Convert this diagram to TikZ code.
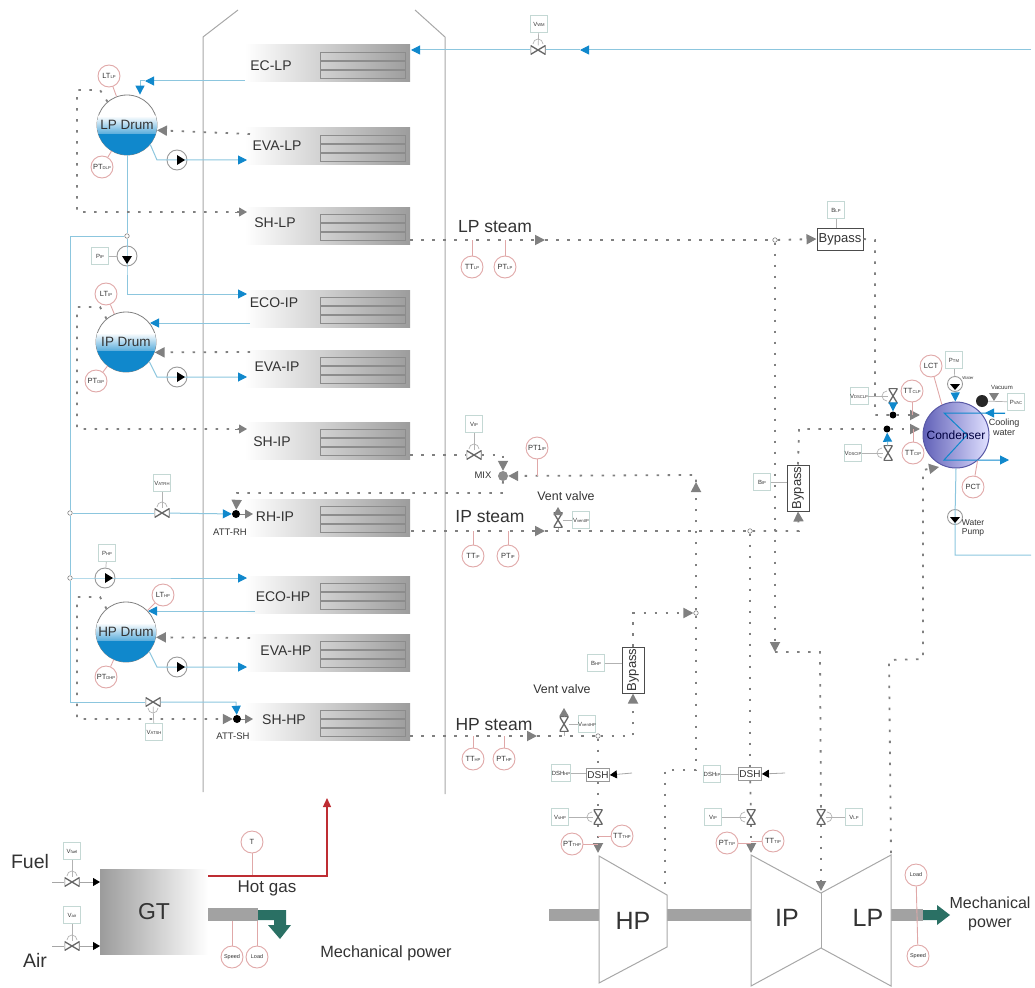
\documentclass[tikz,border=0pt]{standalone}
\usepackage{fontspec}
\setmainfont{Liberation Sans}
\usepackage{tikz}
\usetikzlibrary{positioning, arrows.meta, calc}
\definecolor{casing}{HTML}{A8A8A8}
\definecolor{bankgray}{HTML}{9C9C9C}
\definecolor{tubegray}{HTML}{8C8C8C}
\definecolor{steamgray}{HTML}{808080}
\definecolor{waterline}{HTML}{8CC6DE}
\definecolor{waterblue}{HTML}{1088CC}
\definecolor{redline}{HTML}{E0A8A8}
\definecolor{boxline}{HTML}{C4D8D4}
\definecolor{textgray}{HTML}{333333}
\definecolor{hotred}{HTML}{BE2D33}
\definecolor{powergreen}{HTML}{2A7064}
\definecolor{shaftgray}{HTML}{A2A2A2}
\newcommand{\tagsub}[1]{{\fontsize{4.2}{4.2}\selectfont #1}}

\begin{document}
\begin{tikzpicture}[x=1pt, y=-1pt,
  lbl/.style={text=textgray, inner sep=0pt, font=\fontsize{#1}{#1}\selectfont},
  lbl/.default={14},
  bank/.style={minimum width=165pt, minimum height=37pt, inner sep=0pt,
    left color=white, middle color=gray!62, right color=bankgray},
  tube/.style={draw=tubegray, line width=0.6pt},
  wall/.style={draw=casing, line width=1pt},
  gauge/.style={circle, draw=redline, fill=white, line width=0.9pt, inner sep=0pt,
    minimum size=22pt, text=textgray, font=\fontsize{7.5}{7.5}\selectfont},
  tagbox/.style={draw=boxline, fill=white, line width=0.9pt, inner sep=0pt,
    minimum size=17pt, text=textgray, font=\fontsize{6}{6}\selectfont},
  stem/.style={draw=gray!60, line width=0.7pt},
  redstem/.style={draw=redline, line width=0.9pt},
  water/.style={draw=waterline, line width=1pt,
    -{Triangle[length=9pt,width=9pt,color=waterblue]}},
  steam/.style={draw=steamgray, line width=1.8pt, dash pattern=on 2.5pt off 8.5pt,
    -{Triangle[length=10pt,width=10pt,color=steamgray]}},
  graytip/.style={draw=steamgray, line width=1pt,
    -{Triangle[length=8pt,width=9pt,color=steamgray]}},
  inlet/.style={draw=gray!70, line width=0.8pt,
    -{Triangle[length=7pt,width=8pt,color=black]}},
  joint/.style={circle, draw=gray, fill=white, line width=0.6pt, inner sep=0pt, minimum size=4.5pt},
  attdot/.style={circle, fill=black, inner sep=0pt, minimum size=8pt},
  hvalve/.style={minimum width=15pt, minimum height=9pt, inner sep=0pt, path picture={
    \draw[gray!80!black, line width=1.3pt] (path picture bounding box.south west) -- (path picture bounding box.north east)
      -- (path picture bounding box.south east) -- (path picture bounding box.north west) -- cycle;}},
  vvalve/.style={minimum width=9pt, minimum height=15pt, inner sep=0pt, path picture={
    \draw[gray!80!black, line width=1.3pt] (path picture bounding box.south west) -- (path picture bounding box.north east)
      -- (path picture bounding box.north west) -- (path picture bounding box.south east) -- cycle;}},
  pump/.style={circle, draw=gray!80, fill=white, line width=0.9pt, inner sep=0pt, minimum size=#1},
  pump/.default={20pt},
  bypassbox/.style={draw=black!70, fill=white, line width=1pt, inner sep=0pt, minimum width=46pt,
    minimum height=22pt, text=textgray, font=\fontsize{13}{13}\selectfont},
  dshbox/.style={draw=gray!80, fill=white, line width=0.8pt, inner sep=0pt, minimum width=23pt,
    minimum height=13pt, text=textgray, font=\fontsize{10}{10}\selectfont}
]
  \useasboundingbox (0,0) rectangle (1035,987);

  % HRSG casing
  \draw[wall] (238,10) -- (203,37) -- (203,792);
  \draw[wall] (415,10) -- (445,37) -- (445,794);

  % Heat exchanger banks
  \foreach \nm/\yc/\lx/\ly/\txt in {eclp/63.5/271/66/EC-LP, evalp/146.5/277/146/EVA-LP,
      shlp/226/275/223/SH-LP, ecoip/309/274/303/ECO-IP, evaip/369/277/367/EVA-IP,
      ship/441/272/442/SH-IP, rhip/517.5/275/517/RH-IP, ecohp/594.5/283/597/ECO-HP,
      evahp/652.5/286/651/EVA-HP, shhp/722/284/720/SH-HP} {
    \node[bank] (\nm) at (327.5,\yc) {};
    \foreach \d in {-11,-2,7} {
      \draw[tube] (320,{\yc+\d-0.5}) rectangle ++(85,8);
    }
    \node[lbl] (\nm txt) at (\lx,\ly) {\txt};
  }

  % Drums
  \foreach \nm/\x/\y/\txt in {lpdrum/127/125/LP Drum, ipdrum/126/342/IP Drum, hpdrum/126/632/HP Drum} {
    \node[circle, draw=gray, fill=white, line width=0.8pt, minimum size=60pt, inner sep=0pt] (\nm) at (\x,\y) {};
    \begin{scope}
      \clip (\x,\y) circle[radius=30pt];
      \shade[top color=white, bottom color=waterblue!70] ({\x-31},{\y-9}) rectangle ({\x+31},{\y+9});
      \fill[waterblue] ({\x-31},{\y+9}) rectangle ({\x+31},{\y+31});
    \end{scope}
    \node[lbl=13.5] at (\x,\y) {\txt};
  }

  % Pumps
  \foreach \nm/\x/\y in {pumplp/177/160, pumpip/177/377, pumphp/177/667, pumpfip/127/256, pumpfhp/105/578} {
    \node[pump] (\nm) at (\x,\y) {};
  }
  \foreach \nm/\x/\y in {pumpwater/955/517, pumpcond/955/384} {
    \node[pump=15pt] (\nm) at (\x,\y) {};
  }

  % Joints
  \foreach \nm/\x/\y in {jwater/127/236, jrh/70/513, jeco/70/578, jlp/775/240, jip/750/531, jhp/598/736, jhpb/696/613} {
    \node[joint] (\nm) at (\x,\y) {};
  }

  % Valves
  \foreach \nm/\x/\y in {vwmv/538/50, vrhv/162/513, vshv/153/702, vipv/474/455, vfuelv/72/882, vairv/72/946} {
    \node[hvalve] (\nm) at (\x,\y) {};
  }
  \foreach \nm/\x/\y in {vclpv/893/396, vcipv/888/453, vventip/558/520, vventhp/564/724, vhpv/598/817, vitv/751/817, vltv/821/817} {
    \node[vvalve] (\nm) at (\x,\y) {};
  }

  % Tag boxes
  \foreach \nm/\x/\y/\txt in {vwm/539/24/V\tagsub{WM}, pip/100/256/P\tagsub{IP}, php/107/553/P\tagsub{HP},
      vrh/162/483/V\tagsub{ATRH}, vsh/154/732/V\tagsub{ATSH}, vip/474/424/V\tagsub{IP},
      bventip/581/520/V\tagsub{ventIP}, bventhp/587/724/V\tagsub{ventHP}, blp/836/210/B\tagsub{LP},
      bip/762/482/B\tagsub{IP}, bhp/596/663/B\tagsub{HP}, dshhptag/561/773/DSH\tagsub{HP},
      dshiptag/712/774/DSH\tagsub{IP}, vhp/560/817/V\tagsub{sHP}, vit/713/817/V\tagsub{IP},
      vlt/854/817/V\tagsub{LP}, vclp/859/396/V\tagsub{DSCLP}, vcip/853/453/V\tagsub{DSCIP},
      ptm/954/360/P\tagsub{TM}, pvac/1016/402/P\tagsub{VAC}, vfuel/72/851/V\tagsub{fuel}, vair/72/915/V\tagsub{air}} {
    \node[tagbox] (\nm) at (\x,\y) {\txt};
  }

  % Gauges
  \foreach \nm/\x/\y/\txt in {ltlp/109/76/LT\tagsub{LP}, ptdlp/102/167/PT\tagsub{DLP}, ltip/106/294/LT\tagsub{IP},
      ptdip/96/381/PT\tagsub{DIP}, lthp/163/595/LT\tagsub{HP}, ptdhp/106/677/PT\tagsub{DHP},
      ttlp/472/267/TT\tagsub{LP}, ptlp/505/267/PT\tagsub{LP}, ttip/473/556/TT\tagsub{IP}, ptip/508/556/PT\tagsub{IP},
      tthp/473/759/TT\tagsub{HP}, pthp/504/759/PT\tagsub{HP}, ptoneip/537/448/PT1\tagsub{IP},
      ptthp/572/844/PT\tagsub{THP}, ttthp/622/836/TT\tagsub{THP}, pttip/727/843/PT\tagsub{TIP}, tttip/773/841/TT\tagsub{TIP},
      ttclp/912/391/TT\tagsub{CLP}, ttcip/913/453/TT\tagsub{CIP}, lct/931/366/LCT, pct/973/487/PCT, tgas/252/842/T} {
    \node[gauge] (\nm) at (\x,\y) {\txt};
  }
  \foreach \nm/\x/\y/\txt in {speedgt/232/957/Speed, loadgt/257/957/Load, loadst/916/875/Load, speedst/918/956/Speed} {
    \node[gauge, font=\fontsize{5.5}{5.5}\selectfont] (\nm) at (\x,\y) {\txt};
  }

  % Mixers and desuperheaters
  \node[attdot] (attrh) at (236,514) {};
  \node[attdot] (attsh) at (237,719) {};
  \node[attdot, minimum size=7pt] (attclp) at (893,415) {};
  \node[attdot, minimum size=7pt] (attcip) at (887,429) {};
  \node[circle, fill=gray!90, inner sep=0pt, minimum size=10pt] (mix) at (503,476) {};
  \node[dshbox] (dshhp) at (598,775) {DSH};
  \node[dshbox] (dship) at (750,774) {DSH};

  % Bypass boxes
  \node[bypassbox] (bplp) at (840,239) {Bypass};
  \node[bypassbox, rotate=90] (bpip) at (798,488) {Bypass};
  \node[bypassbox, rotate=90] (bphp) at (633,670) {Bypass};

  % Free line ends
  \foreach \nm/\x/\y in {feedin/1031/50, feedmid/580/50, ecolpin/411/50, ecolpout/245/81, ecoipout/250/323,
      ipdrumin/150/323, ecohpout/255/611, hpdrumin/148/611, shlpout/410/240, lpmid/545/240, shipout/410/455,
      rhout/411/531, ipmid/545/531, shhpout/410/736, hpmid/537/736, evalpin/247/160, evaipin/247/377, evahpin/247/667,
      ecoipin/247/294, ecohpin/247/578, rhin/253/514, shin/253/719, shhpside/236/702, evalpout/250/134, evaipout/250/352,
      evahpout/250/638, shlpin/247/212, shipin/247/429, hpin/598/853, ipin/751/853, lpin/821/891,
      hpout/665/888, lpout/891/853, lpturn/775/652, hvent/564/708, ivent/558/507, cwout/1031/555,
      condlp/920/415, condip/920/429, condlpb/939/467, coilin/1005/413, coilout/1009/460,
      fuelin/52/882, gtfuel/100/882, airin/52/946, gtair/100/946, hotout/208/876, hotbend/327/876, hottip/327/798,
      dshhpfeed/632/773, dshipfeed/785/773} {
    \coordinate (\nm) at (\x,\y);
  }

  % Feed water
  \draw[water] (feedin) -- (feedmid);
  \draw[water] (feedmid) -- (vwmv) -- (ecolpin);
  \draw[water] (ecolpout) -- (145,81);
  \draw[water] (145,81) -- (140,81) -- (lpdrum.north -| 140,0);
  \draw[water] (ecoipout) -- (ipdrumin);
  \draw[water] (ecohpout) -- (hpdrumin);
  \draw[water,-] (lpdrum.south) -- (jwater);
  \draw[water] (jwater) -- (pumpfip.center) -- (127,294) -- (ecoipin);
  \draw[water] (lpdrum.-40) -- (157,160) -- (pumplp.center) -- (evalpin);
  \draw[water] (ipdrum.-40) -- (157,377) -- (pumpip.center) -- (evaipin);
  \draw[water] (hpdrum.-40) -- (157,667) -- (pumphp.center) -- (evahpin);
  \draw[water,-] (jwater) -- (70,236) -- (jrh);
  \draw[water,-] (jrh) -- (jeco);
  \draw[water,-] (jeco) -- (70,702) -- (vshv);
  \draw[water] (vshv) -- (shhpside) -- (attsh);
  \draw[water,-] (jrh) -- (vrhv);
  \draw[water] (vrhv) -- (attrh);
  \draw[water] (jeco) -- (pumpfhp.center) -- (ecohpin);

  % Drum steam
  \draw[steam] (evalpout) -- (lpdrum.-10);
  \draw[steam] (evaipout) -- (ipdrum.-20);
  \draw[steam] (evahpout) -- (hpdrum.-10);
  \draw[steam,-] (lpdrum.130) -- (100,90) -- (77,90) -- (77,212) -- (shlpin);
  \draw[graytip] (235,212) -- (shlpin);
  \draw[steam,-] (ipdrum.130) -- (100,307) -- (77,307) -- (77,429) -- (shipin);
  \draw[graytip] (235,429) -- (shipin);
  \draw[steam] (hpdrum.130) -- (100,597) -- (77,597) -- (77,719) -- (attsh);
  \draw[graytip] (attrh) -- (rhin);
  \draw[graytip] (attsh) -- (shin);

  % LP line
  \draw[steam] (shlpout) -- (lpmid);
  \draw[steam,-] (lpmid) -- (jlp);
  \draw[steam] (jlp) -- (bplp.west);
  \draw[steam,-] (bplp.east) -- (875,240) -- (875,415) -- (attclp);
  \draw[steam] (attclp) -- (condlp);
  \draw[steam] (jlp) -- (lpturn);
  \draw[steam,-] (lpturn) -- (820,652) -- (vltv);
  \draw[steam] (vltv) -- (lpin);

  % IP line
  \draw[steam] (rhout) -- (ipmid);
  \draw[steam,-] (ipmid) -- (jip);
  \draw[steam] (jip) -- (799,531) -- (bpip.west);
  \draw[steam,-] (bpip.east) -- (799,429) -- (attcip);
  \draw[steam] (attcip) -- (condip);
  \draw[steam,-] (jip) -- (dship);
  \draw[steam,-] (dship) -- (vitv);
  \draw[steam] (vitv) -- (ipin);
  \draw[steam] (shipout) -- (vipv) -- (503,455) -- (mix);
  \draw[steam] (jhpb) -- (696,482);
  \draw[steam] (696,482) -- (696,475) -- (mix);
  \draw[steam] (mix.south) -- (502,493) -- (237,493) -- (attrh);

  % HP line
  \draw[steam] (shhpout) -- (hpmid);
  \draw[steam,-] (hpmid) -- (jhp);
  \draw[steam] (jhp) -- (633,736) -- (bphp.west);
  \draw[steam] (bphp.east) -- (633,613) -- (jhpb);
  \draw[steam,-] (jhp) -- (dshhp);
  \draw[steam,-] (dshhp) -- (vhpv);
  \draw[steam] (vhpv) -- (hpin);
  \draw[steam,-] (jhpb) -- (696,770) -- (665,770) -- (hpout);
  \draw[steam] (lpout) -- (889,660) -- (923,659) -- (923,470) -- (condlpb);

  % Vent valves
  \draw[graytip] (vventhp) -- (hvent);
  \draw[graytip] (vventip) -- (ivent);
  \draw[stem] (vventhp) -- (bventhp);
  \draw[stem] (vventip) -- (bventip);
  \draw[stem] (vventhp) -- (vventhp |- jhp);
  \draw[stem] (vventip) -- (vventip |- jip);

  % Tag stems
  \foreach \a/\b in {vwm/vwmv, vrh/vrhv, vsh/vshv, vip/vipv, vfuel/vfuelv, vair/vairv, pip/pumpfip, php/pumpfhp,
      vhp/vhpv, vit/vitv, vlt/vltv, vclp/vclpv, vcip/vcipv, ptm/pumpcond} {
    \draw[stem] (\a) -- (\b);
  }
  \draw[stem] (dshhptag) -- (dshhptag -| dshhp.west);
  \draw[stem] (dshiptag) -- (dship);
  \draw[stem] (bip) -- (bip -| bpip.north);
  \draw[stem] (bhp) -- (bhp -| bphp.north);
  \draw[stem] (blp) -- (blp |- bplp.north);
  \foreach \nm in {vwmv, vrhv, vipv, vfuelv, vairv} {
    \draw[stem] (\nm.center) ++(-5,-6) arc[start angle=180, end angle=0, radius=5pt];
  }
  \draw[stem] (vshv.center) ++(-5,6) arc[start angle=180, end angle=360, radius=5pt];
  \foreach \nm in {vhpv, vitv, vclpv, vcipv} {
    \draw[stem] (\nm.center) ++(-6,-5) arc[start angle=90, end angle=270, radius=5pt];
  }
  \draw[stem] (vltv.center) ++(6,-5) arc[start angle=90, end angle=-90, radius=5pt];

  % Gauge stems
  \foreach \a/\b in {ltlp/lpdrum, ptdlp/lpdrum, ltip/ipdrum, ptdip/ipdrum, lthp/hpdrum, ptdhp/hpdrum} {
    \draw[redstem] (\a) -- (\b);
  }
  \draw[redstem] (ttlp) -- (ttlp |- jlp);
  \draw[redstem] (ptlp) -- (ptlp |- jlp);
  \draw[redstem] (ttip) -- (ttip |- jip);
  \draw[redstem] (ptip) -- (ptip |- jip);
  \draw[redstem] (tthp) -- (tthp |- jhp);
  \draw[redstem] (pthp) -- (pthp |- jhp);
  \draw[redstem] (ptoneip) -- (ptoneip |- mix);
  \draw[redstem] (ptthp) -- (hpin |- ptthp);
  \draw[redstem] (ttthp) -- (hpin |- ttthp);
  \draw[redstem] (pttip) -- (ipin |- pttip);
  \draw[redstem] (tttip) -- (ipin |- tttip);

  % Steam turbines
  \fill[shaftgray] (549,909) rectangle (923,921);
  \draw[wall, fill=white] (599,856) -- (667,895) -- (667,947) -- (599,983) -- cycle;
  \draw[wall, fill=white] (751,855) -- (821,893) -- (891,855) -- (891,986) -- (821,948) -- (751,986) -- cycle;
  \draw[wall] (821,893) -- (821,948);
  \node[lbl=25] (hptxt) at (633,921) {HP};
  \node[lbl=25] (iptxt) at (787,918) {IP};
  \node[lbl=25] (lptxt) at (868,918) {LP};
  \fill[powergreen] (923,910) -- (937,910) -- (937,905) -- (950,915) -- (937,925) -- (937,920) -- (923,920) -- cycle;
  \draw[redstem] (loadst) -- (speedst);
  \node[lbl=16, align=center] (powerst) at (990,914) {Mechanical\\[3pt]power};

  % Condenser
  \node[circle, draw=gray!70!blue, line width=1pt, minimum size=66pt, inner sep=0pt,
    left color=blue!55!black!62, right color=blue!12!white] (cond) at (956,435) {};
  \draw[water, draw=waterblue, -] (coilin) -- (944,413) -- (967,435) -- (944,460) -- (1000,460);
  \draw[water, draw=waterblue] (1000,460) -- (coilout);
  \draw[water, draw=waterblue] (coilin) -- (985,413);
  \node[lbl=12, text=black!75!blue] (condtxt) at (cond) {Condenser};
  \draw[water] (vclpv) -- (attclp);
  \draw[water] (vcipv) -- (attcip);
  \draw[water] (pumpcond) -- (cond);
  \draw[redstem] (ttclp) -- (ttclp |- condlp);
  \draw[redstem] (ttcip) -- (ttcip |- condip);
  \draw[redstem] (lct) -- (cond.115);
  \draw[redstem] (pct) -- (cond.-50);
  \draw[water,-] (cond.south) -- (pumpwater.center) -- (955,555) -- (cwout);
  \node[circle, fill=black!85, inner sep=0pt, minimum size=12pt] (vacpump) at (982,401) {};
  \draw[stem] (pvac) -- (vacpump);
  \fill[steamgray] (989,393) -- (999,393) -- (994,401) -- cycle;
  \node[lbl=4.2] (watertxt) at (968,378) {Water};
  \node[lbl=6] (vacuumtxt) at (1002,387) {Vacuum};
  \node[lbl=9, align=center] (cooltxt) at (1004,427) {Cooling\\[1pt]water};
  \node[lbl=8.5, align=center] (pumptxt) at (973,528) {Water\\[1pt]Pump};

  % Pump triangles
  \foreach \x/\y/\dx/\dy in {177/160/1/0, 177/377/1/0, 177/667/1/0, 105/578/1/0} {
    \fill[black] ({\x+8*\dx},\y) -- (\x,{\y+5}) -- (\x,{\y-5}) -- cycle;
  }
  \foreach \x/\y/\s in {127/256/8, 955/517/6, 955/384/6} {
    \fill[black] (\x,{\y+\s}) -- ({\x-5},\y) -- ({\x+5},\y) -- cycle;
  }

  % DSH spray
  \draw[inlet] (dshhpfeed) -- (dshhp.east);
  \draw[inlet] (dshipfeed) -- (dship.east);

  % Gas turbine
  \node[minimum width=108pt, minimum height=85pt, inner sep=0pt, left color=gray!78, right color=white] (gt) at (154,911.5) {};
  \node[lbl=23] (gttxt) at (gt) {GT};
  \fill[shaftgray] (208,908) rectangle (258,921);
  \fill[powergreen] (258,910) -- (286,910) -- (286,925) -- (291,925) -- (280,939) -- (268,925)
    -- (274,925) -- (274,920) -- (258,920) -- cycle;
  \draw[redstem] (tgas) -- (tgas |- hotout);
  \draw[redstem] (speedgt) -- (232,921);
  \draw[redstem] (loadgt) -- (257,921);
  \draw[draw=hotred, line width=1.3pt, -{Triangle[length=9pt,width=8pt,color=hotred]}] (hotout) -- (hotbend) -- (hottip);
  \draw[inlet,-] (fuelin) -- (vfuelv);
  \draw[inlet] (vfuelv) -- (gtfuel);
  \draw[inlet,-] (airin) -- (vairv);
  \draw[inlet] (vairv) -- (gtair);

  % Labels
  \node[lbl=17.5] (lpsteam) at (495,227) {LP steam};
  \node[lbl=17.5] (ipsteam) at (490,517) {IP steam};
  \node[lbl=17.5] (hpsteam) at (494,725) {HP steam};
  \node[lbl=12.4] (ventip) at (566,496) {Vent valve};
  \node[lbl=12.4] (venthp) at (562,689) {Vent valve};
  \node[lbl=9.5] (mixtxt) at (483,475) {MIX};
  \node[lbl=9.5] (attrhtxt) at (230,532) {ATT-RH};
  \node[lbl=9.5] (attshtxt) at (233,736) {ATT-SH};
  \node[lbl=19.5] (fueltxt) at (30,862) {Fuel};
  \node[lbl=19.5] (airtxt) at (35,960) {Air};
  \node[lbl=17] (hotgas) at (267,888) {Hot gas};
  \node[lbl=16.3] (powergt) at (386,953) {Mechanical power};
\end{tikzpicture}
\end{document}
